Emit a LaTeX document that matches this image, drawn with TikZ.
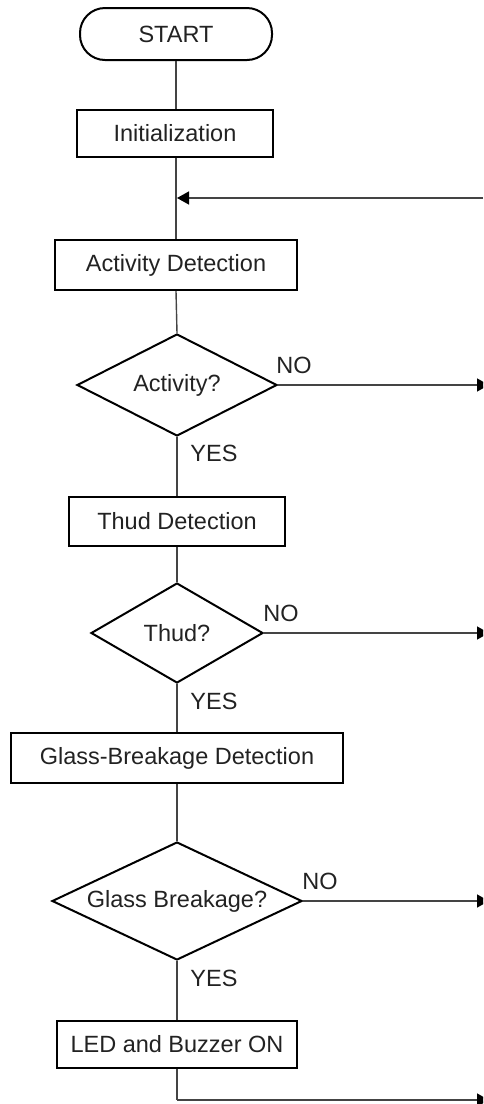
\documentclass[tikz,border=0pt]{standalone}
\usepackage{fontspec}
\setmainfont{Liberation Sans}
\usetikzlibrary{shapes.geometric,arrows.meta}
\definecolor{txt}{HTML}{222222}
\definecolor{ln}{HTML}{444444}
\tikzset{
  every node/.style={font=\fontsize{23.5}{27}\selectfont, text=txt},
  proc/.style={draw=black, line width=2pt, rectangle, inner sep=0pt},
  term/.style={draw=black, line width=2pt, rectangle, rounded corners=25pt, inner sep=0pt},
  dec/.style={draw=black, line width=2pt, diamond, inner sep=0pt},
  conn/.style={draw=ln, line width=1.4pt},
  arr/.style={conn, -{Triangle[length=12pt,width=13pt,color=black]}},
  lbl/.style={inner sep=0pt},
}
\begin{document}
\begin{tikzpicture}[x=1pt,y=-1pt]
\useasboundingbox (0,0) rectangle (483,1104);
\clip (0,0) rectangle (483,1104);
\node[term, minimum width=192pt, minimum height=52pt] (start) at (176,34) {START};
\node[proc, minimum width=196pt, minimum height=47pt] (init) at (175,133) {Initialization};
\node[proc, minimum width=242pt, minimum height=50pt] (actdet) at (176,265) {Activity Detection};
\node[dec, shape aspect=1.96, minimum width=200pt, minimum height=102pt] (actq) at (177,385) {Activity?};
\node[proc, minimum width=216pt, minimum height=49pt] (thuddet) at (177,521) {Thud Detection};
\node[dec, shape aspect=1.72, minimum width=172pt, minimum height=100pt] (thudq) at (177,633) {Thud?};
\node[proc, minimum width=332pt, minimum height=50pt] (glassdet) at (177,758) {Glass-Breakage Detection};
\node[dec, shape aspect=2.12, minimum width=250pt, minimum height=118pt] (glassq) at (177,901) {Glass Breakage?};
\node[proc, minimum width=240pt, minimum height=47pt] (led) at (177,1044) {LED and Buzzer ON};

\coordinate (topr) at (483,198);
\coordinate (join) at (177,198);
\coordinate (ea) at (489,385);
\coordinate (et) at (489,633);
\coordinate (eg) at (489,901);
\coordinate (lb) at (177,1100);
\coordinate (el) at (489,1100);

\draw[conn] (start.south) -- (start.south |- init.north);
\draw[conn] (actdet.north |- init.south) -- (actdet.north);
\draw[arr] (topr) -- (join);
\draw[conn] (actdet.south) -- (actq.north);
\draw[conn] (actq.south) -- (thuddet.north);
\draw[conn] (thuddet.south) -- (thudq.north);
\draw[conn] (thudq.south) -- (glassdet.north);
\draw[conn] (glassdet.south) -- (glassq.north);
\draw[conn] (glassq.south) -- (led.north);
\draw[conn] (led.south) -- (lb);
\draw[arr] (lb) -- (el);
\draw[arr] (actq.east) -- (ea);
\draw[arr] (thudq.east) -- (et);
\draw[arr] (glassq.east) -- (eg);

\node[lbl] (no1) at (294,365) {NO};
\node[lbl] (yes1) at (214,453) {YES};
\node[lbl] (no2) at (281,613) {NO};
\node[lbl] (yes2) at (214,701) {YES};
\node[lbl] (no3) at (320,881) {NO};
\node[lbl] (yes3) at (214,978) {YES};
\end{tikzpicture}
\end{document}
